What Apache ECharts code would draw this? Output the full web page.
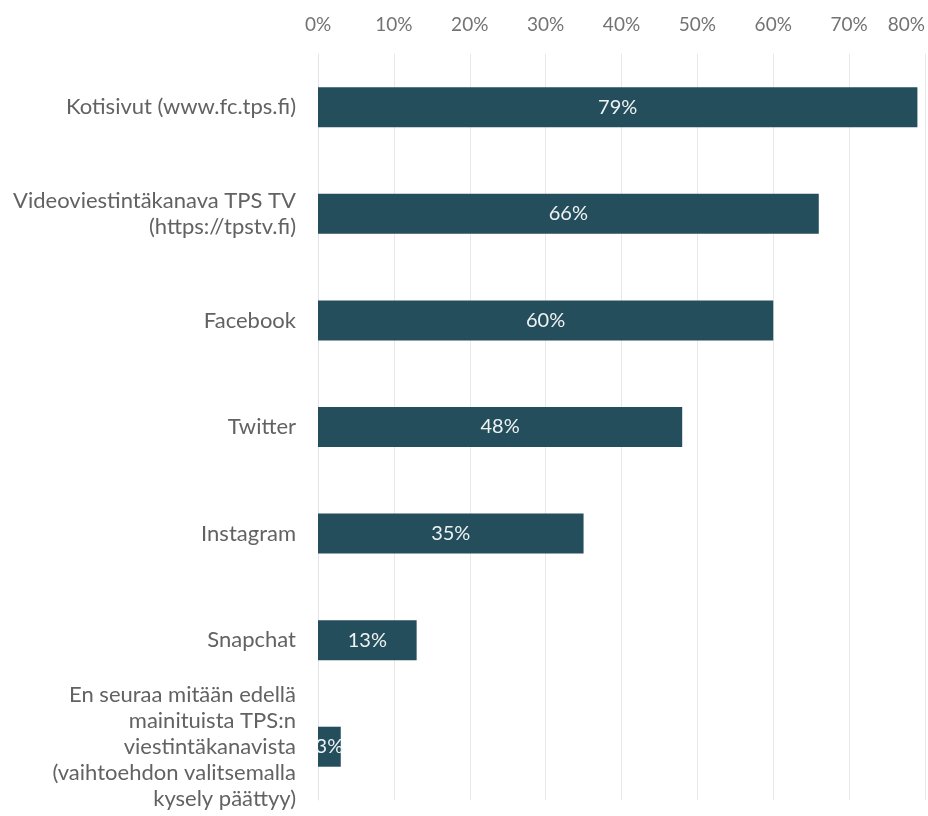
<!DOCTYPE html>
<html>
<head>
<meta charset="utf-8">
<script src="https://cdn.jsdelivr.net/npm/echarts@6/dist/echarts.min.js"></script>
<style>
html,body{margin:0;padding:0;background:#fff;}
#chart{width:928px;height:816px;}
</style>
</head>
<body>
<div id="chart"></div>
<script>
var categories = [
  "Kotisivut (www.fc.tps.fi)",
  "Videoviestintäkanava TPS TV\n(https://tpstv.fi)",
  "Facebook",
  "Twitter",
  "Instagram",
  "Snapchat",
  "En seuraa mitään edellä\nmainituista TPS:n\nviestintäkanavista\n(vaihtoehdon valitsemalla\nkysely päättyy)"
];
var values = [79, 66, 60, 48, 35, 13, 3];
var axisMin = 0;
var axisMax = 80;
var axisStep = 10;

var font = "Lato, 'Open Sans', sans-serif";
var chart = echarts.init(document.getElementById('chart'), null, {renderer: 'canvas'});
chart.setOption({
  animation: false,
  backgroundColor: '#ffffff',
  grid: {left: 318, right: 2, top: 54, bottom: 16},
  xAxis: {
    type: 'value', position: 'top',
    min: axisMin, max: axisMax, interval: axisStep,
    axisLabel: {show: true, formatter: '{value}%', color: '#737373', fontSize: 19, fontFamily: font, margin: 20, alignMaxLabel: 'right'},
    axisLine: {show: false}, axisTick: {show: false},
    splitLine: {show: true, lineStyle: {color: '#e8e8e8', width: 1}}
  },
  yAxis: {
    type: 'category', data: categories, inverse: true,
    axisLine: {show: true, lineStyle: {color: '#e3e3e3'}},
    axisTick: {show: false},
    axisLabel: {color: '#626262', fontSize: 22, fontFamily: font, lineHeight: 26, margin: 22, align: 'right'}
  },
  series: [{
    type: 'bar',
    data: values,
    barWidth: 40,
    itemStyle: {color: '#244e5b'},
    label: {
      show: true, position: 'inside', formatter: '{c}%',
      color: '#eef2f3', fontSize: 20, fontFamily: font
    }
  }]
});
</script>
</body>
</html>
